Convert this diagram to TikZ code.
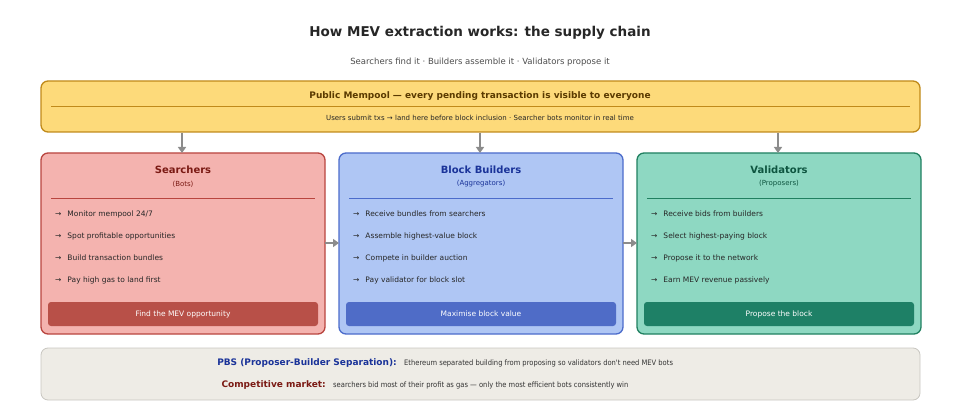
\documentclass[tikz,border=0pt]{standalone}
\usepackage{fontspec}
\setmainfont{DejaVu Sans}
\newfontfamily\condf{DejaVu Sans Condensed}
\usetikzlibrary{arrows.meta}
\definecolor{ybg}{HTML}{FDDA7A}\definecolor{ybd}{HTML}{C08A1A}\definecolor{ytx}{HTML}{5A3A00}
\definecolor{rbg}{HTML}{F4B3AF}\definecolor{rbd}{HTML}{B9453F}\definecolor{rtx}{HTML}{7B1A14}\definecolor{rbt}{HTML}{B85048}
\definecolor{bbg}{HTML}{AFC6F4}\definecolor{bbd}{HTML}{4C6CCB}\definecolor{btx}{HTML}{1A3399}\definecolor{bbt}{HTML}{4F6CC7}
\definecolor{gbg}{HTML}{8ED8C2}\definecolor{gbd}{HTML}{208060}\definecolor{gtx}{HTML}{0E5540}\definecolor{gbt}{HTML}{1E8066}
\definecolor{nbg}{HTML}{EEECE6}\definecolor{nbd}{HTML}{C8C6C0}\definecolor{arr}{HTML}{8C8C8C}
\begin{document}
\begin{tikzpicture}[x=1pt,y=-1pt,
  txt/.style={inner sep=0pt,anchor=center},
  bul/.style={inner sep=0pt,anchor=west,font=\fontsize{7.5}{9}\selectfont,text=black!85},
  flow/.style={draw=arr,line width=1.6pt,-{Triangle[length=6pt,width=8pt]}},
  colbox/.style={rounded corners=7pt,line width=1.3pt},
  btn/.style={rounded corners=3pt}]
\useasboundingbox (0,0) rectangle (960,414);
\node[txt,font=\bfseries\fontsize{13.5}{16}\selectfont,text=black!85] (title) at (480,33) {How MEV extraction works: the supply chain};
\node[txt,font=\fontsize{8.5}{10}\selectfont,text=black!70] (sub) at (480,62) {Searchers find it · Builders assemble it · Validators propose it};
% mempool
\draw[fill=ybg,draw=ybd,line width=1.3pt,rounded corners=7pt] (41,81) rectangle (920,132);
\node[txt,font=\bfseries\fontsize{9}{11}\selectfont,text=ytx] (mp) at (480,96) {Public Mempool — every pending transaction is visible to everyone};
\draw[ybd,line width=0.8pt] (51,106) -- (910,106);
\node[txt,font=\fontsize{7}{9}\selectfont,text=black!85] (mps) at (480,118) {Users submit txs → land here before block inclusion · Searcher bots monitor in real time};
\coordinate (m1) at (182,133);\coordinate (m2) at (480,133);\coordinate (m3) at (778,133);
% columns
\foreach \x/\bg/\bd/\tx/\bt/\T/\S/\A/\B/\C/\D/\F/\n in {
 41/rbg/rbd/rtx/rbt/Searchers/(Bots)/Monitor mempool 24\slash 7/Spot profitable opportunities/Build transaction bundles/Pay high gas to land first/Find the MEV opportunity/c1,
 339/bbg/bbd/btx/bbt/Block Builders/(Aggregators)/Receive bundles from searchers/Assemble highest-value block/Compete in builder auction/Pay validator for block slot/Maximise block value/c2,
 637/gbg/gbd/gtx/gbt/Validators/(Proposers)/Receive bids from builders/Select highest-paying block/Propose it to the network/Earn MEV revenue passively/Propose the block/c3}{
 \draw[colbox,fill=\bg,draw=\bd] (\x,153) rectangle ++(284,181);
 \node[inner sep=0pt,minimum width=284pt,minimum height=181pt,anchor=north west] (\n) at (\x,153) {};
 \node[txt,font=\bfseries\fontsize{10}{12}\selectfont,text=\tx] at (\x+142,170) {\T};
 \node[txt,font=\fontsize{7}{9}\selectfont,text=\tx] at (\x+142,184) {\S};
 \draw[\bd,line width=0.7pt] (\x+10,198) -- (\x+274,198);
 \node[bul] at (\x+14,214) {→\hspace{6pt}\A};
 \node[bul] at (\x+14,236) {→\hspace{6pt}\B};
 \node[bul] at (\x+14,258) {→\hspace{6pt}\C};
 \node[bul] at (\x+14,280) {→\hspace{6pt}\D};
 \fill[btn,\bt] (\x+7,302) rectangle (\x+277,326);
 \node[txt,font=\fontsize{7.5}{9}\selectfont,text=white] at (\x+142,314) {\F};
}
\draw[flow] (m1) -- (m1 |- c1.north);
\draw[flow] (m2) -- (m2 |- c2.north);
\draw[flow] (m3) -- (m3 |- c3.north);
\draw[flow] (c1.east |- 0,243) -- (c2.west |- 0,243);
\draw[flow] (c2.east |- 0,243) -- (c3.west |- 0,243);
% notes
\draw[fill=nbg,draw=nbd,line width=0.8pt,rounded corners=7pt] (41,348) rectangle (920,400);
\node[inner sep=0pt,anchor=east,font=\bfseries\fontsize{9}{11}\selectfont,text=btx] (pbs) at (397,363) {PBS (Proposer-Builder Separation):};
\node[inner sep=0pt,anchor=west,font=\condf\fontsize{7.5}{9}\selectfont,text=black!80] at (404,363) {Ethereum separated building from proposing so validators don't need MEV bots};
\node[inner sep=0pt,anchor=east,font=\bfseries\fontsize{9}{11}\selectfont,text=rtx] (cm) at (326,385) {Competitive market:};
\node[inner sep=0pt,anchor=west,font=\condf\fontsize{7.5}{9}\selectfont,text=black!80] at (333,385) {searchers bid most of their profit as gas — only the most efficient bots consistently win};
\end{tikzpicture}
\end{document}
